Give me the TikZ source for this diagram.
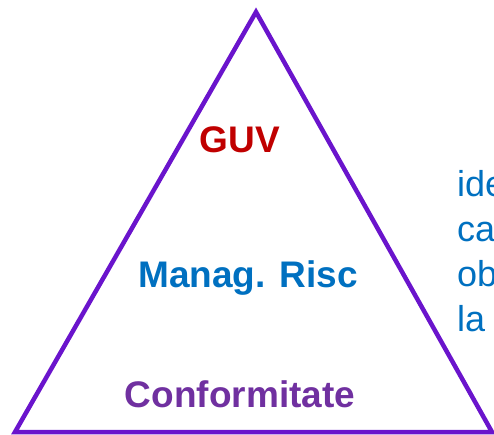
\documentclass[tikz,border=0pt]{standalone}
\usepackage{fontspec}
\setmainfont{Liberation Sans}
\definecolor{trilila}{HTML}{6A14CC}
\definecolor{guvred}{HTML}{C00000}
\definecolor{riscblue}{HTML}{0070C0}
\definecolor{confpurple}{HTML}{7030A0}
\tikzset{
  lvl/.style={anchor=base,inner sep=0pt,font=\fontsize{37}{45}\selectfont\bfseries},
  side/.style={anchor=base west,inner sep=0pt,text=riscblue,font=\fontsize{36}{45}\selectfont}
}
\begin{document}
\begin{tikzpicture}[x=1pt,y=-1pt]
\useasboundingbox (0,0) rectangle (494,434);
\clip (0,0) rectangle (494,434);
\draw[trilila,line width=4.5pt,line join=miter] (256,12) -- (492,432) -- (15,432) -- cycle;

\node[lvl,text=guvred] (guv) at (240,152) {GUV};
\node[lvl,text=riscblue] (risc) at (248,287) {Manag. Risc};
\node[lvl,text=confpurple] (conf) at (240,407) {Conformitate};

\foreach \w [count=\i] in {ide,ca,ob,la} {
	\node[side] (r\i) at (457,196+45*\i-45) {\w};
}
\end{tikzpicture}
\end{document}
